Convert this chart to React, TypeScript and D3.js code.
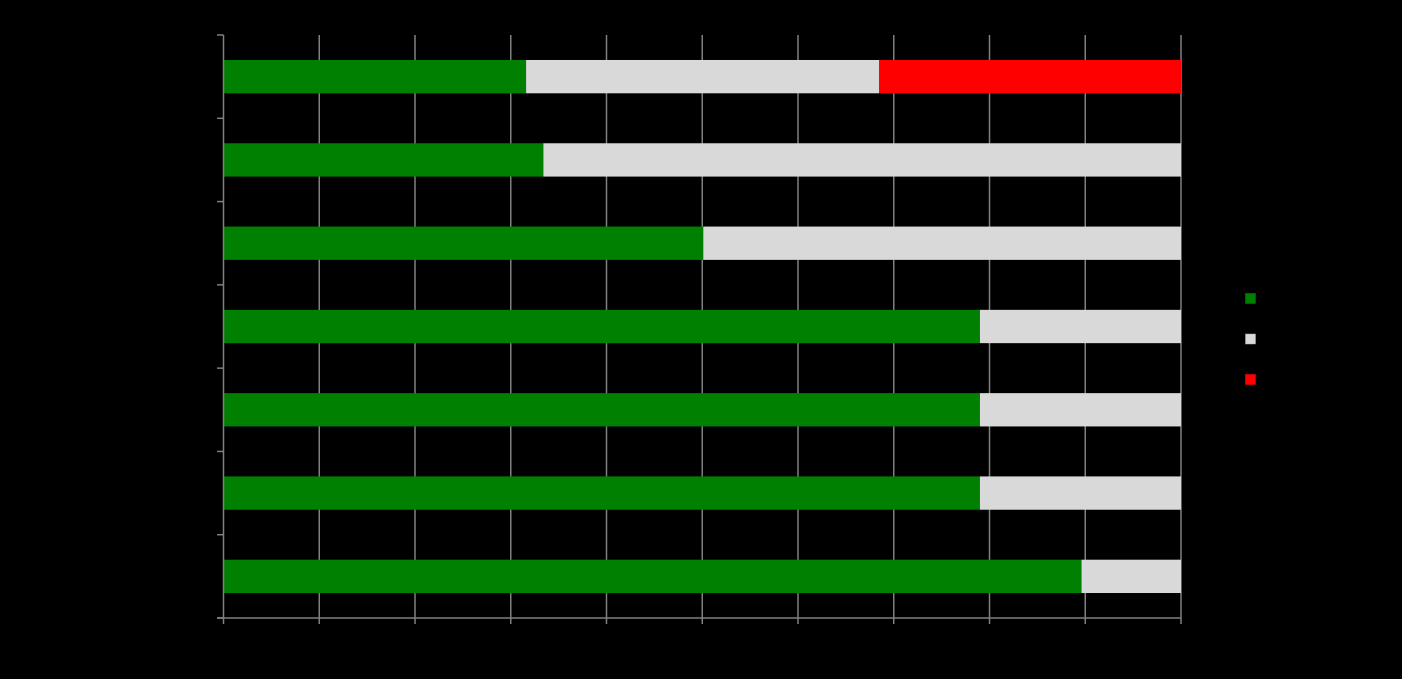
import React from "react";
import * as d3 from "d3";

const categories = ["c1", "c2", "c3", "c4", "c5", "c6", "c7"];
const greenValues = [31.6, 33.4, 50.1, 79.0, 79.0, 79.0, 89.6];
const greyValues = [36.9, 66.6, 49.9, 21.0, 21.0, 21.0, 10.4];
const redValues = [31.5, 0, 0, 0, 0, 0, 0];
const seriesColors = ["#008000", "#D9D9D9", "#FF0000"];
const xTicks = [0, 10, 20, 30, 40, 50, 60, 70, 80, 90, 100];

export default function App() {
  const W = 1402, H = 679;
  const x = d3.scaleLinear().domain([0, 100]).range([223.5, 1181]);
  const y = d3.scaleBand<string>().domain(categories).range([35, 618]).padding(0);
  const bw = y.bandwidth();
  const barH = bw * 0.4;
  const seriesData = [greenValues, greyValues, redValues];
  const stacks = categories.map((c, i) => {
    let acc = 0;
    return seriesData.map((s, k) => {
      const x0 = acc;
      acc += s[i];
      return { c, k, x0, x1: acc };
    });
  });
  const yTicks = [...categories.map((c) => y(c)!), 618];
  return (
    <svg width={W} height={H} style={{ position: "absolute", left: 0, top: 0, background: "#000" }}>
      <rect x={0} y={0} width={W} height={H} fill="#000" />
      {xTicks.slice(1).map((t) => (
        <line key={"g" + t} x1={x(t)} x2={x(t)} y1={35} y2={624} stroke="#808080" strokeWidth={1.5} />
      ))}
      {stacks.map((row) =>
        row.filter((d) => d.x1 > d.x0).map((d) => (
          <rect
            key={d.c + d.k}
            x={x(d.x0)}
            width={x(d.x1) - x(d.x0)}
            y={y(d.c)! + (bw - barH) / 2}
            height={barH}
            fill={seriesColors[d.k]}
          />
        ))
      )}
      <line x1={223.5} x2={223.5} y1={35} y2={624} stroke="#808080" strokeWidth={1.5} />
      <line x1={217} x2={1181} y1={618} y2={618} stroke="#808080" strokeWidth={1.5} />
      {yTicks.map((t, i) => (
        <line key={"yt" + i} x1={217} x2={223.5} y1={t} y2={t} stroke="#808080" strokeWidth={1.5} />
      ))}
      {seriesColors.map((col, i) => (
        <rect key={"lg" + i} x={1245.5} y={293.5 + i * 40.5} width={10} height={10} fill={col} stroke={i === 1 ? "#aaa" : col} strokeWidth={0.5} />
      ))}
    </svg>
  );
}
